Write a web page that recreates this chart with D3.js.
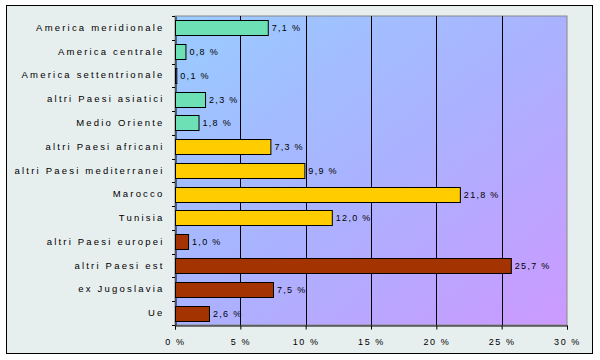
<!DOCTYPE html>
<html><head><meta charset="utf-8">
<script src="https://cdn.jsdelivr.net/npm/d3@7"></script>
<style>body{margin:0;background:#fff}svg{display:block}text{font-family:"Liberation Sans",Arial,sans-serif}</style>
</head><body><svg id="c" width="600" height="360"></svg>
<script>
const categories = ["America meridionale","America centrale","America settentrionale","altri Paesi asiatici","Medio Oriente","altri Paesi africani","altri Paesi mediterranei","Marocco","Tunisia","altri Paesi europei","altri Paesi est","ex Jugoslavia","Ue"];
const values = [7.1,0.8,0.1,2.3,1.8,7.3,9.9,21.8,12.0,1.0,25.7,7.5,2.6];
const groups = ["a","a","v","a","a","y","y","y","y","r","r","r","r"];
const tickValues = [0,5,10,15,20,25,30];
const colors = {a:"#6ee0b6", v:"#9999ff", y:"#ffcc00", r:"#a33300"};

const svg = d3.select("#c");
svg.append("rect").attr("x",6.5).attr("y",5.5).attr("width",586).attr("height",348)
  .attr("fill","#e7eeee").attr("stroke","#000").attr("stroke-width",1);

const L=175, R=567, T=16, B=325;
const x = d3.scaleLinear().domain([0,30]).range([L,R]);
const y = d3.scaleBand().domain(categories).range([T,B]).paddingInner(0.36).paddingOuter(0.18);

const defs = svg.append("defs");
const g = defs.append("linearGradient").attr("id","bg").attr("x1","0").attr("y1","0").attr("x2","1").attr("y2","1");
g.append("stop").attr("offset","0").attr("stop-color","#99ccff");
g.append("stop").attr("offset","0.5").attr("stop-color","#aab2ff");
g.append("stop").attr("offset","1").attr("stop-color","#cc99ff");

svg.append("rect").attr("x",L).attr("y",T).attr("width",R-L).attr("height",B-T)
  .attr("fill","url(#bg)").attr("stroke","#888").attr("stroke-width",1);

// gridlines
svg.append("g").selectAll("line").data(tickValues.slice(1,-1)).join("line")
  .attr("x1",d=>Math.round(x(d))+0.5).attr("x2",d=>Math.round(x(d))+0.5)
  .attr("y1",T).attr("y2",B).attr("stroke","#000").attr("stroke-width",1);

// x axis
const xa = svg.append("g").attr("transform",`translate(0,${B+0.5})`)
  .call(d3.axisBottom(x).tickValues(tickValues).tickSize(4).tickPadding(9).tickFormat(d=>d+" %"));
xa.select(".domain").attr("stroke","#000");
xa.selectAll("text").attr("font-size",9).attr("fill","#000").style("letter-spacing","1.6px");

// y axis
const ya = svg.append("g").attr("transform",`translate(${L+0.5},0)`)
  .call(d3.axisLeft(y).tickSize(0).tickPadding(11));
ya.select(".domain").attr("stroke","#000");
ya.selectAll("text").attr("font-size",9.5).attr("fill","#000").style("letter-spacing","2.2px");
// boundary ticks
const bounds = d3.range(categories.length+1).map(i=> T + (B-T)*i/categories.length);
svg.append("g").selectAll("line").data(bounds).join("line")
  .attr("x1",L-3).attr("x2",L).attr("y1",d=>Math.round(d)+0.5).attr("y2",d=>Math.round(d)+0.5)
  .attr("stroke","#000");

// bars
svg.append("g").selectAll("rect").data(categories).join("rect")
  .attr("x",x(0)+0.5).attr("y",d=>Math.round(y(d))+0.5)
  .attr("width",(d,i)=>Math.max(1,x(values[i])-x(0)))
  .attr("height",Math.round(y.bandwidth()))
  .attr("fill",(d,i)=>colors[groups[i]]).attr("stroke","#000").attr("stroke-width",1);

// value labels
svg.append("g").selectAll("text").data(categories).join("text")
  .attr("x",(d,i)=>x(values[i])+4).attr("y",d=>Math.round(y(d))+y.bandwidth()/2+1)
  .attr("dominant-baseline","middle").attr("font-size",9).attr("fill","#000")
  .style("letter-spacing","1.3px")
  .text((d,i)=>values[i].toFixed(1).replace(".",",")+" %");
</script></body></html>
